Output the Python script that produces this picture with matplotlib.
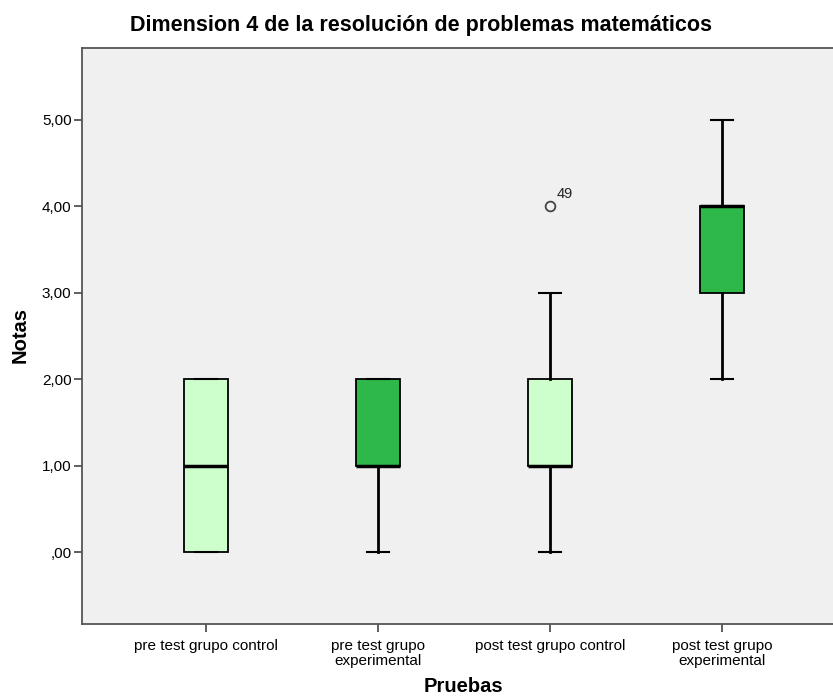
import matplotlib
matplotlib.use("Agg")
import matplotlib.pyplot as plt

plt.rcParams['font.family'] = ['Liberation Sans', 'DejaVu Sans']

grupos = ["pre test grupo control", "pre test grupo\nexperimental",
          "post test grupo control", "post test grupo\nexperimental"]
q1 = [0, 1, 1, 3]
medianas = [1, 1, 1, 4]
q3 = [2, 2, 2, 4]
bigote_inf = [0, 0, 0, 2]
bigote_sup = [2, 2, 3, 5]
atipicos = [[], [], [4], []]
etiquetas_atipicos = [[], [], ["49"], []]
colores = ["#ccffcc", "#2eb84a", "#ccffcc", "#2eb84a"]

stats = []
for i in range(len(grupos)):
    stats.append({"med": medianas[i], "q1": q1[i], "q3": q3[i],
                  "whislo": bigote_inf[i], "whishi": bigote_sup[i],
                  "fliers": atipicos[i]})

fig = plt.figure(figsize=(8.33, 6.98), dpi=100)
ax = fig.add_axes([0.0984, 0.106, 0.9016, 0.825])
ax.set_facecolor("#f0f0f0")

pos = list(range(1, len(grupos) + 1))
bp = ax.bxp(stats, positions=pos, widths=0.256, patch_artist=True,
            boxprops=dict(edgecolor="black", linewidth=1.3),
            medianprops=dict(color="black", linewidth=2.5),
            whiskerprops=dict(color="black", linewidth=2),
            capprops=dict(color="black", linewidth=1.5),
            flierprops=dict(marker="o", markerfacecolor="none",
                            markeredgecolor="#444444", markersize=7,
                            markeredgewidth=1.3))
for caja, c in zip(bp["boxes"], colores):
    caja.set_facecolor(c)
# caps en SPSS son mas cortas que la caja
for cap in bp["caps"]:
    x0, x1 = cap.get_xdata()
    m = (x0 + x1) / 2
    cap.set_xdata([m - 0.064, m + 0.064])

for i, (vals, labs) in enumerate(zip(atipicos, etiquetas_atipicos)):
    for v, l in zip(vals, labs):
        ax.annotate(l, (pos[i], v), xytext=(5, 6), textcoords="offset points",
                    fontsize=10.5, color="#222222")

ax.set_xlim(0.28, 4.645)
ax.set_ylim(-0.83, 5.83)
ax.set_xticks(pos)
ax.set_xticklabels(grupos, fontsize=11)
for t in ax.get_xticklabels():
    t.set_linespacing(1.15)
ax.set_yticks([0, 1, 2, 3, 4, 5])
ax.set_yticklabels([",00", "1,00", "2,00", "3,00", "4,00", "5,00"], fontsize=11)
ax.tick_params(direction="out", length=5.5, width=1.2, color="#444444", pad=2)
ax.tick_params(axis="x", pad=5)

for lado in ["left", "top", "bottom"]:
    ax.spines[lado].set_color("#555555")
    ax.spines[lado].set_linewidth(1.3)
ax.spines["right"].set_visible(False)

fig.text(421 / 833, 1 - 25 / 698, "Dimension 4 de la resolución de problemas matemáticos",
         fontsize=15.5, fontweight="bold", ha="center", va="center")
fig.text(463 / 833, 1 - 687 / 698, "Pruebas", fontsize=14.5, fontweight="bold",
         ha="center", va="center")
fig.text(20 / 833, 1 - 335 / 698, "Notas", fontsize=14.5, fontweight="bold",
         ha="center", va="center", rotation=90)

fig.savefig("out.png", dpi=100)
